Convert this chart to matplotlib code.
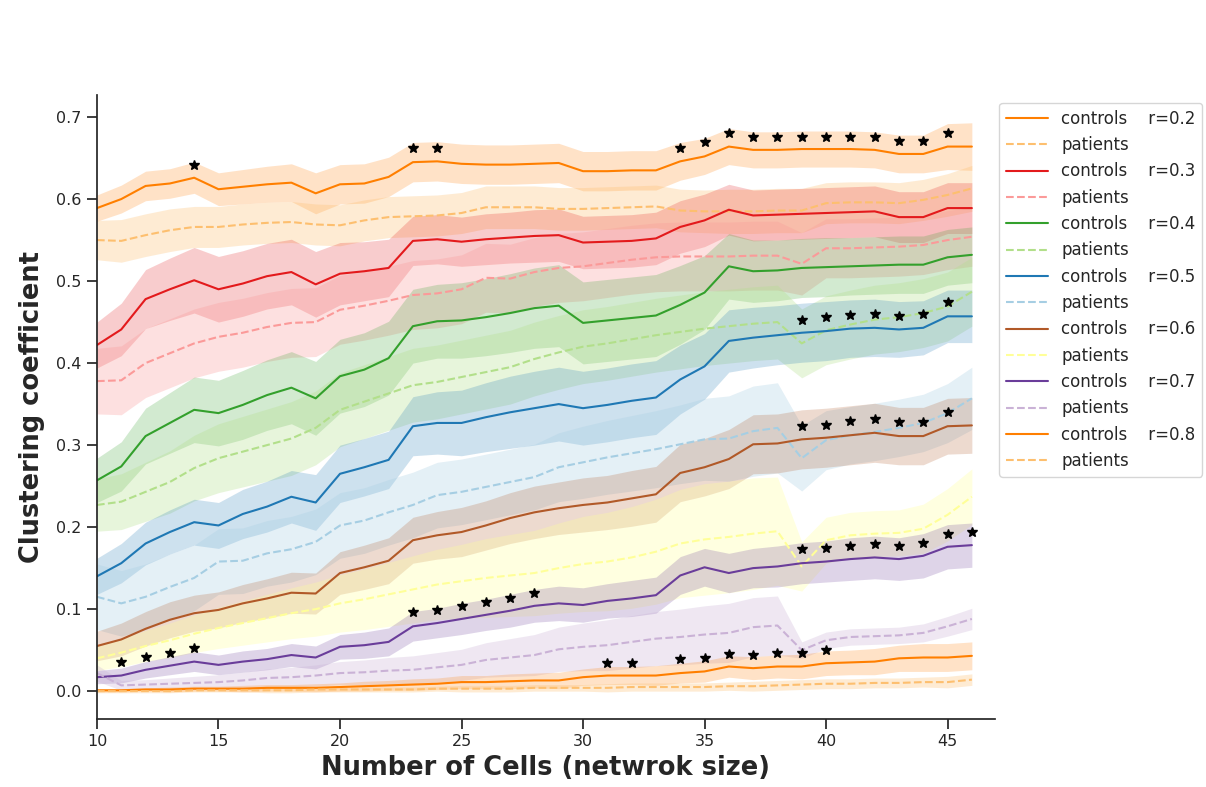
import numpy as np
import matplotlib
matplotlib.use('Agg')
import matplotlib.pyplot as plt
import seaborn as sns

# rozmiar sieci
x = list(range(10, 47))
r_labels = ['0.2', '0.3', '0.4', '0.5', '0.6', '0.7', '0.8']

# srednie - kontrole
c02 = [0.589,0.600,0.616,0.619,0.626,0.612,0.615,0.618,0.620,0.607,0.618,0.619,0.627,0.645,0.646,0.643,0.642,0.642,0.643,0.644,0.634,0.634,0.635,0.635,0.646,0.652,0.664,0.660,0.660,0.661,0.661,0.661,0.660,0.655,0.655,0.664,0.664]
c03 = [0.422,0.441,0.478,0.490,0.501,0.490,0.497,0.506,0.511,0.496,0.509,0.512,0.516,0.549,0.551,0.548,0.551,0.553,0.555,0.556,0.547,0.548,0.549,0.552,0.566,0.574,0.587,0.580,0.581,0.582,0.583,0.584,0.585,0.578,0.578,0.589,0.589]
c04 = [0.257,0.274,0.311,0.327,0.343,0.339,0.349,0.361,0.370,0.357,0.384,0.392,0.406,0.445,0.451,0.452,0.456,0.461,0.467,0.470,0.449,0.452,0.455,0.458,0.471,0.486,0.518,0.512,0.513,0.516,0.517,0.518,0.519,0.520,0.520,0.529,0.532]
c05 = [0.140,0.156,0.180,0.194,0.206,0.202,0.216,0.225,0.237,0.230,0.265,0.273,0.282,0.323,0.327,0.327,0.334,0.340,0.345,0.350,0.345,0.349,0.354,0.358,0.380,0.396,0.427,0.431,0.434,0.437,0.439,0.442,0.443,0.441,0.443,0.457,0.457]
c06 = [0.055,0.063,0.076,0.087,0.095,0.099,0.107,0.113,0.120,0.119,0.144,0.151,0.159,0.184,0.190,0.194,0.202,0.211,0.218,0.223,0.227,0.230,0.235,0.240,0.266,0.273,0.283,0.301,0.302,0.307,0.309,0.312,0.315,0.311,0.311,0.323,0.324]
c07 = [0.017,0.019,0.026,0.031,0.036,0.032,0.036,0.039,0.044,0.041,0.054,0.056,0.060,0.079,0.083,0.088,0.093,0.098,0.104,0.107,0.105,0.110,0.113,0.117,0.141,0.151,0.144,0.150,0.152,0.156,0.158,0.161,0.163,0.161,0.165,0.176,0.178]
c08 = [0.001,0.001,0.002,0.002,0.003,0.003,0.003,0.004,0.004,0.004,0.005,0.006,0.007,0.008,0.009,0.011,0.011,0.012,0.013,0.013,0.017,0.019,0.019,0.019,0.022,0.024,0.030,0.028,0.030,0.030,0.034,0.035,0.036,0.040,0.041,0.041,0.043]

# srednie - pacjenci
p02 = [0.550,0.549,0.556,0.562,0.566,0.566,0.569,0.571,0.572,0.569,0.568,0.574,0.578,0.579,0.580,0.583,0.590,0.590,0.590,0.588,0.588,0.589,0.590,0.591,0.586,0.585,0.585,0.585,0.586,0.586,0.595,0.596,0.596,0.595,0.599,0.605,0.613]
p03 = [0.378,0.379,0.400,0.412,0.424,0.432,0.437,0.444,0.449,0.450,0.465,0.470,0.476,0.483,0.485,0.490,0.504,0.503,0.511,0.516,0.518,0.522,0.526,0.529,0.530,0.530,0.530,0.531,0.531,0.521,0.540,0.540,0.541,0.542,0.544,0.550,0.554]
p04 = [0.227,0.231,0.243,0.255,0.272,0.284,0.292,0.300,0.308,0.321,0.343,0.353,0.363,0.373,0.377,0.383,0.389,0.395,0.405,0.413,0.420,0.424,0.429,0.434,0.438,0.442,0.445,0.448,0.450,0.424,0.440,0.447,0.453,0.456,0.461,0.469,0.487]
p05 = [0.115,0.107,0.115,0.127,0.138,0.158,0.159,0.168,0.173,0.182,0.202,0.208,0.218,0.227,0.239,0.243,0.249,0.255,0.261,0.273,0.279,0.285,0.290,0.295,0.301,0.307,0.308,0.317,0.321,0.284,0.306,0.312,0.316,0.321,0.327,0.339,0.357]
p06 = [0.040,0.047,0.055,0.062,0.070,0.077,0.083,0.089,0.095,0.100,0.107,0.112,0.118,0.124,0.130,0.134,0.138,0.141,0.144,0.150,0.155,0.158,0.163,0.170,0.180,0.185,0.188,0.192,0.195,0.152,0.184,0.190,0.192,0.193,0.198,0.215,0.237]
p07 = [0.022,0.007,0.008,0.009,0.010,0.011,0.013,0.016,0.017,0.019,0.022,0.023,0.025,0.026,0.029,0.032,0.038,0.041,0.044,0.051,0.054,0.056,0.060,0.064,0.066,0.069,0.071,0.078,0.080,0.050,0.062,0.066,0.067,0.068,0.071,0.079,0.088]
p08 = [0.000,0.000,0.000,0.000,0.001,0.001,0.001,0.001,0.001,0.002,0.002,0.002,0.002,0.002,0.003,0.003,0.003,0.003,0.004,0.004,0.004,0.004,0.005,0.005,0.005,0.005,0.006,0.006,0.007,0.008,0.009,0.009,0.010,0.010,0.011,0.011,0.014]

# polszerokosc pasm bledu - kontrole
e_c02 = [0.016,0.017,0.018,0.018,0.019,0.020,0.021,0.022,0.023,0.025,0.024,0.024,0.024,0.024,0.024,0.024,0.024,0.024,0.024,0.024,0.024,0.024,0.024,0.024,0.023,0.022,0.022,0.022,0.022,0.022,0.022,0.022,0.022,0.023,0.023,0.028,0.029]
e_c03 = [0.028,0.032,0.036,0.038,0.040,0.040,0.040,0.040,0.040,0.040,0.038,0.036,0.035,0.030,0.030,0.030,0.031,0.031,0.032,0.032,0.032,0.032,0.032,0.032,0.032,0.032,0.031,0.031,0.031,0.031,0.031,0.031,0.031,0.031,0.031,0.031,0.031]
e_c04 = [0.027,0.030,0.034,0.037,0.040,0.040,0.042,0.043,0.044,0.045,0.045,0.045,0.045,0.045,0.045,0.046,0.047,0.048,0.049,0.050,0.050,0.050,0.050,0.050,0.048,0.045,0.040,0.038,0.037,0.036,0.036,0.035,0.035,0.035,0.035,0.034,0.034]
e_c05 = [0.022,0.024,0.026,0.027,0.028,0.028,0.030,0.031,0.032,0.034,0.035,0.035,0.035,0.036,0.038,0.040,0.042,0.044,0.045,0.045,0.045,0.045,0.045,0.045,0.042,0.040,0.038,0.037,0.036,0.036,0.036,0.035,0.035,0.034,0.033,0.032,0.032]
e_c06 = [0.018,0.020,0.021,0.022,0.022,0.022,0.023,0.024,0.025,0.025,0.026,0.027,0.028,0.028,0.029,0.030,0.030,0.031,0.032,0.032,0.033,0.033,0.034,0.034,0.035,0.035,0.036,0.036,0.036,0.036,0.036,0.036,0.036,0.035,0.035,0.034,0.034]
e_c07 = [0.008,0.009,0.010,0.011,0.012,0.012,0.013,0.013,0.014,0.014,0.015,0.016,0.017,0.018,0.018,0.019,0.019,0.020,0.020,0.021,0.021,0.021,0.022,0.022,0.023,0.023,0.024,0.024,0.025,0.025,0.025,0.026,0.026,0.026,0.027,0.027,0.027]
e_c08 = [0.002,0.002,0.002,0.003,0.003,0.003,0.004,0.004,0.004,0.005,0.005,0.006,0.006,0.007,0.007,0.008,0.008,0.009,0.009,0.010,0.010,0.011,0.011,0.012,0.012,0.013,0.013,0.014,0.014,0.015,0.015,0.015,0.016,0.016,0.017,0.017,0.017]

# polszerokosc pasm bledu - pacjenci
e_p02 = [0.024,0.026,0.026,0.026,0.025,0.025,0.025,0.025,0.025,0.025,0.025,0.025,0.025,0.025,0.025,0.025,0.026,0.026,0.026,0.026,0.026,0.026,0.026,0.026,0.026,0.026,0.027,0.027,0.027,0.027,0.025,0.025,0.025,0.025,0.025,0.026,0.028]
e_p03 = [0.040,0.042,0.042,0.042,0.042,0.042,0.042,0.042,0.042,0.042,0.042,0.042,0.042,0.042,0.042,0.042,0.042,0.042,0.042,0.042,0.042,0.042,0.042,0.042,0.042,0.042,0.042,0.042,0.042,0.038,0.036,0.036,0.036,0.036,0.036,0.036,0.036]
e_p04 = [0.032,0.034,0.036,0.038,0.040,0.042,0.043,0.044,0.045,0.045,0.045,0.045,0.045,0.045,0.045,0.045,0.045,0.045,0.045,0.045,0.045,0.045,0.045,0.045,0.045,0.045,0.045,0.045,0.045,0.042,0.042,0.042,0.042,0.042,0.042,0.042,0.042]
e_p05 = [0.040,0.040,0.040,0.040,0.040,0.040,0.040,0.040,0.040,0.040,0.040,0.040,0.040,0.040,0.040,0.040,0.040,0.040,0.040,0.042,0.044,0.045,0.046,0.047,0.048,0.050,0.052,0.055,0.055,0.040,0.036,0.035,0.035,0.035,0.035,0.036,0.038]
e_p06 = [0.015,0.017,0.019,0.021,0.023,0.025,0.027,0.029,0.031,0.033,0.035,0.037,0.039,0.041,0.043,0.045,0.048,0.050,0.052,0.055,0.058,0.060,0.062,0.064,0.066,0.068,0.068,0.068,0.066,0.030,0.028,0.028,0.028,0.028,0.030,0.032,0.034]
e_p07 = [0.010,0.006,0.006,0.007,0.008,0.009,0.010,0.011,0.012,0.013,0.014,0.015,0.016,0.017,0.018,0.019,0.021,0.023,0.025,0.027,0.029,0.031,0.032,0.033,0.034,0.035,0.036,0.036,0.036,0.010,0.010,0.010,0.010,0.010,0.011,0.012,0.013]
e_p08 = [0.002,0.002,0.002,0.002,0.002,0.002,0.002,0.003,0.003,0.003,0.003,0.003,0.003,0.003,0.003,0.004,0.004,0.004,0.004,0.004,0.004,0.005,0.005,0.005,0.005,0.005,0.005,0.006,0.006,0.006,0.006,0.006,0.006,0.006,0.006,0.007,0.007]

# gwiazdki istotnosci
star_x = [14, 23, 24, 34, 35, 36, 37, 38, 39, 40, 41, 42, 43, 44, 45,
          39, 40, 41, 42, 43, 44, 45,
          39, 40, 41, 42, 43, 44, 45,
          11, 12, 13, 14, 23, 24, 25, 26, 27, 28, 39, 40, 41, 42, 43, 44, 45, 46,
          31, 32, 34, 35, 36, 37, 38, 39, 40]
star_y = [0.641, 0.662, 0.662, 0.662, 0.669, 0.681, 0.676, 0.676, 0.676, 0.676, 0.676, 0.676, 0.671, 0.671, 0.681,
          0.453, 0.456, 0.459, 0.460, 0.457, 0.460, 0.474,
          0.323, 0.325, 0.329, 0.332, 0.328, 0.328, 0.340,
          0.035, 0.042, 0.046, 0.052, 0.096, 0.099, 0.104, 0.109, 0.114, 0.120, 0.173, 0.175, 0.177, 0.180, 0.177, 0.181, 0.191, 0.194,
          0.034, 0.034, 0.039, 0.040, 0.045, 0.044, 0.046, 0.046, 0.050]

controls = [c02, c03, c04, c05, c06, c07, c08]
patients = [p02, p03, p04, p05, p06, p07, p08]
err_c = [e_c02, e_c03, e_c04, e_c05, e_c06, e_c07, e_c08]
err_p = [e_p02, e_p03, e_p04, e_p05, e_p06, e_p07, e_p08]

# paleta Paired: (ciemny, jasny)
pal = sns.color_palette('Paired', 12)
colors = [(pal[7], pal[6]), (pal[5], pal[4]), (pal[3], pal[2]), (pal[1], pal[0]),
          (pal[11], pal[10]), (pal[9], pal[8]), (pal[7], pal[6])]

sns.set_style('ticks')
plt.rcParams['font.family'] = ['DejaVu Sans']

fig = plt.figure(figsize=(12.06, 7.87), dpi=100)
ax = fig.add_axes([0.0804, 0.0864, 0.7446, 0.793])

xa = np.array(x)
for i, r in enumerate(r_labels):
    dark, light = colors[i]
    cm = np.array(controls[i]); ce = np.array(err_c[i])
    pm = np.array(patients[i]); pe = np.array(err_p[i])
    ax.fill_between(xa, cm - ce, cm + ce, color=dark, alpha=0.22, linewidth=0)
    ax.plot(xa, cm, color=dark, lw=1.5, label=f'controls    r={r}')
    ax.fill_between(xa, pm - pe, pm + pe, color=light, alpha=0.3, linewidth=0)
    ax.plot(xa, pm, color=light, lw=1.5, ls='--', label='patients')

ax.plot(star_x, star_y, ls='none', marker='*', color='black', markersize=7)

ax.set_xlim(10, 46.95)
ax.set_ylim(-0.034, 0.727)
ax.set_xticks([10, 15, 20, 25, 30, 35, 40, 45])
ax.set_yticks([0.0, 0.1, 0.2, 0.3, 0.4, 0.5, 0.6, 0.7])
ax.tick_params(labelsize=11.5, length=7, width=1.25, pad=4)
for s in ['left', 'bottom']:
    ax.spines[s].set_linewidth(1.25)
sns.despine(ax=ax)

ax.set_xlabel('Number of Cells (netwrok size)', fontsize=18.5, fontweight='bold', labelpad=4)
ax.set_ylabel('Clustering coefficient', fontsize=18.5, fontweight='bold', labelpad=8)

ax.legend(loc='upper left', bbox_to_anchor=(1.005, 0.987), fontsize=12, frameon=True,
          handlelength=2.5, labelspacing=0.5, borderaxespad=0)

fig.savefig('out.png', dpi=100)
